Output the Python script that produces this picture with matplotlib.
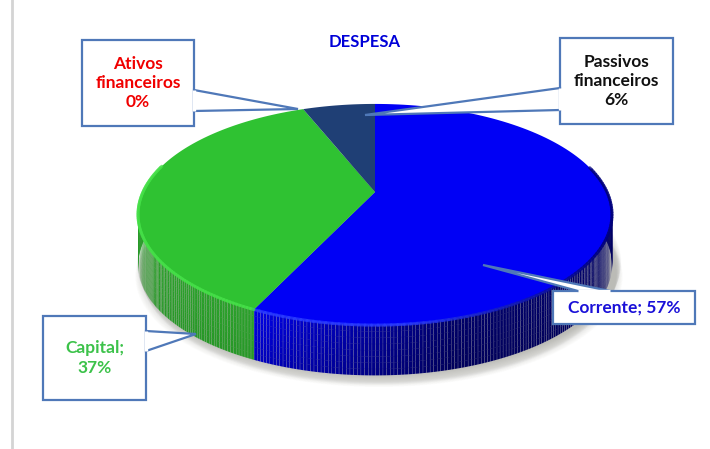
import numpy as np
import matplotlib
matplotlib.use("Agg")
import matplotlib.pyplot as plt
from matplotlib.patches import Polygon, Rectangle

plt.rcParams["font.family"] = ["Lato", "DejaVu Sans"]

# Despesa por grupo
categorias = ["Corrente", "Capital", "Ativos financeiros", "Passivos financeiros"]
valores = [57, 37, 0, 6]
cores_topo = ["#0000f5", "#2fc232", "#e00000", "#1f3f75"]
cores_lado = ["#0000d0", "#2aa02a", "#c00000", "#1a3560"]

# geometria do disco em pixels
CX, CY = 375, 192
DX, AY, PERSP = 232, 106, 0.2036
ALTURA = 50


def projeta(ang):
    # angulo medido a partir do topo, sentido horario
    u = np.sin(ang)
    v = np.cos(ang)
    w = 1 + PERSP * v
    return CX + DX * u / w, CY - AY * v / w


def misturar(cor, alvo, t):
    a = np.array(matplotlib.colors.to_rgb(cor))
    b = np.array(matplotlib.colors.to_rgb(alvo))
    return tuple(a * (1 - t) + b * t)


fig = plt.figure(figsize=(7.10, 4.49), dpi=100)
ax = fig.add_axes([0, 0, 1, 1])
ax.set_xlim(0, 710)
ax.set_ylim(449, 0)
ax.axis("off")

# moldura cinza a esquerda
ax.plot([11.5, 11.5], [0, 449], color="#d4d4d4", lw=2, zorder=1)

# sombra suave por baixo do disco
t = np.linspace(0, 2 * np.pi, 240)
xs, ys = projeta(t)
for k in range(14):
    esc = 1 + 0.0016 * (14 - k)
    ax.fill(CX + 4 + (xs - CX) * esc, ys + ALTURA + 4 + k * 0.9 - 6,
            color="#8a8a80", alpha=0.035, lw=0, zorder=2)
    ax.fill(CX + 4 + (xs - CX) * (esc + 0.006), ys + ALTURA + 12 - k * 0.4,
            color="#a0a098", alpha=0.02, lw=0, zorder=2)

# limites das fatias a partir dos valores
total = sum(valores)
fracoes = np.array(valores) / total
fim = np.cumsum(fracoes) * 2 * np.pi
inicio = np.r_[0, fim[:-1]]

# lateral do disco em tiras finas, escurecendo para a direita
for i in range(len(valores)):
    if valores[i] == 0:
        continue
    angs = np.linspace(inicio[i], fim[i], max(int(valores[i] * 5), 4))
    for a0, a1 in zip(angs[:-1], angs[1:]):
        am = (a0 + a1) / 2
        if np.cos(am) > 0.15:
            continue
        x0, y0 = projeta(a0)
        x1, y1 = projeta(a1)
        xm = (x0 + x1) / 2
        if i == 0:
            s = np.clip((xm - 262) / 190, 0, 1)
            cor_alto = misturar("#0000e0", "#000068", s)
            cor_baixo = misturar("#0000b8", "#00005a", s)
        else:
            cor_alto = cores_lado[i]
            cor_baixo = misturar(cores_lado[i], "#1c7c1c", 0.25)
        for j in range(8):
            f0, f1 = j / 8, (j + 1) / 8
            cor = misturar(cor_alto, cor_baixo, f0)
            ax.add_patch(Polygon(
                [(x0, y0 + ALTURA * f0), (x1 + 0.3, y1 + ALTURA * f0),
                 (x1 + 0.3, y1 + ALTURA * f1 + 0.3), (x0, y0 + ALTURA * f1 + 0.3)],
                facecolor=cor, edgecolor="none", zorder=3))

# face superior das fatias
for i in range(len(valores)):
    if valores[i] == 0:
        continue
    angs = np.linspace(inicio[i], fim[i], 120)
    x, y = projeta(angs)
    ax.add_patch(Polygon(np.c_[np.r_[CX, x], np.r_[CY, y]], closed=True,
                         facecolor=cores_topo[i], edgecolor="none", zorder=4))

# chanfro junto a borda: brilho na frente, sombra a direita
for i in range(len(valores)):
    if valores[i] == 0:
        continue
    angs = np.linspace(inicio[i], fim[i], 160)
    x, y = projeta(angs)
    frente = np.cos(angs) < 0.25
    for j in range(len(angs) - 1):
        if not frente[j]:
            continue
        xm = (x[j] + x[j + 1]) / 2
        if i == 0:
            s = np.clip((xm - 400) / 200, 0, 1)
            cor = misturar("#2a3cff", "#00007a", s)
        else:
            cor = "#45e048"
        ax.plot(x[j:j + 2], y[j:j + 2], color=cor, lw=2.2, alpha=0.75,
                solid_capstyle="round", zorder=5)

# titulo
ax.text(365, 42, "DESPESA", color="#0000d8", fontsize=12, fontweight="bold",
        ha="center", va="center", zorder=8)

# caixas de rotulo: (x0, y0, x1, y1), texto, cor, ponta, base do conector
rotulos = [
    ((82, 40, 194, 126), "Ativos\nfinanceiros\n{}%".format(valores[2]), "#f00000",
     (298, 109), ((194, 90), (194, 111))),
    ((560, 38, 673, 124), "Passivos\nfinanceiros\n{}%".format(valores[3]), "#111111",
     (365, 115), ((560, 88), (560, 110))),
    ((43, 316, 146, 400), "Capital;\n{}%".format(valores[1]), "#3cc24a",
     (196, 334), ((146, 331), (146, 351))),
    ((553, 291, 695, 324), "Corrente; {}%".format(valores[0]), "#1a10d8",
     (483, 265), ((578, 291), (610, 291))),
]

for caixa, texto, cor, ponta, base in rotulos:
    x0, y0, x1, y1 = caixa
    ax.add_patch(Rectangle((x0, y0), x1 - x0, y1 - y0, facecolor="white",
                           edgecolor="#4f78b8", lw=1.6, zorder=6))
    ax.add_patch(Polygon([base[0], ponta, base[1]], closed=True, facecolor="white",
                         edgecolor="#4f78b8", lw=1.6, zorder=6, joinstyle="miter"))
    # apaga o trecho da borda sob o conector
    ax.plot([base[0][0], base[1][0]], [base[0][1], base[1][1]], color="white",
            lw=2.4, zorder=6.5, solid_capstyle="butt")
    ax.text((x0 + x1) / 2, (y0 + y1) / 2, texto, color=cor, fontsize=12.5,
            fontweight="bold", ha="center", va="center", linespacing=1.25, zorder=8)

fig.savefig("out.png", dpi=100)
